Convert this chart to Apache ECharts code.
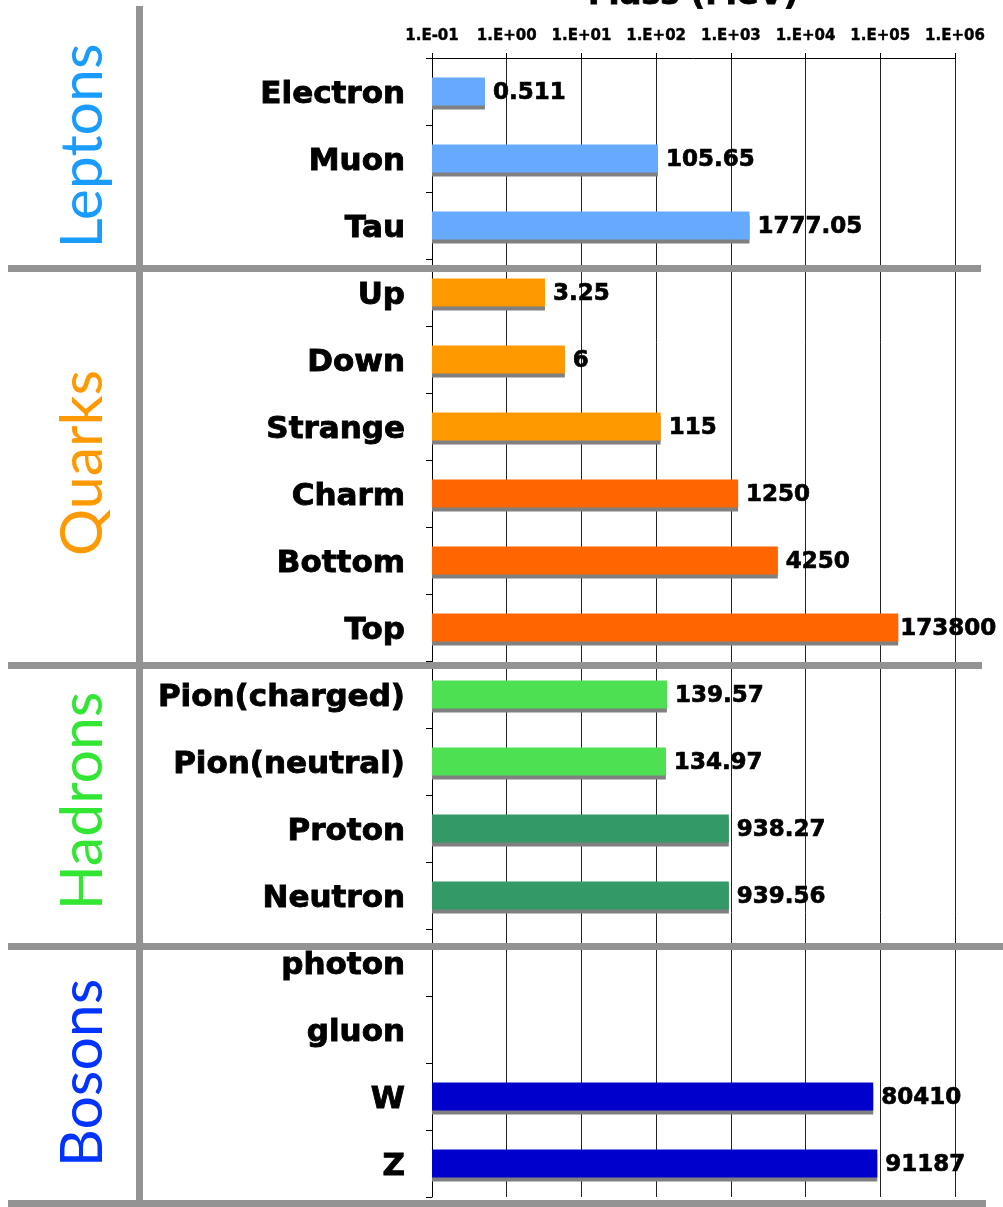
<!DOCTYPE html>
<html>
<head>
<meta charset="utf-8">
<script src="https://cdn.jsdelivr.net/npm/echarts@6/dist/echarts.min.js"></script>
<style>
html,body{margin:0;padding:0;background:#fff;}
#c{width:1003px;height:1207px;}
</style>
</head>
<body>
<div id="c"></div>
<script>
const categories = ['Electron','Muon','Tau','Up','Down','Strange','Charm','Bottom','Top',
  'Pion(charged)','Pion(neutral)','Proton','Neutron','photon','gluon','W','Z'];
const masses = [0.511, 105.65, 1777.05, 3.25, 6, 115, 1250, 4250, 173800,
  139.57, 134.97, 938.27, 939.56, null, null, 80410, 91187];
const barColors = ['#66aaff','#66aaff','#66aaff','#ff9900','#ff9900','#ff9900','#ff6600','#ff6600','#ff6600',
  '#4ce052','#4ce052','#339966','#339966','#0000cc','#0000cc','#0000cc','#0000cc'];
const tickLabels = ['1.E-01','1.E+00','1.E+01','1.E+02','1.E+03','1.E+04','1.E+05','1.E+06'];
const groups = ['Leptons','Quarks','Hadrons','Bosons'];
const groupColors = ['#1a9cff','#ff9900','#33e633','#0033ff'];
const groupCenters = [146, 463, 801, 1073];

const chart = echarts.init(document.getElementById('c'), null, {renderer:'canvas'});
const sepColor = '#939393';
const graphics = [
  {type:'rect', shape:{x:136, y:6, width:7, height:1207}, style:{fill:sepColor}, z:10},
  {type:'rect', shape:{x:8, y:265, width:973, height:7}, style:{fill:sepColor}, z:10},
  {type:'rect', shape:{x:8, y:662, width:974, height:7}, style:{fill:sepColor}, z:10},
  {type:'rect', shape:{x:8, y:943, width:995, height:7}, style:{fill:sepColor}, z:10},
  {type:'rect', shape:{x:8, y:1200, width:978, height:7}, style:{fill:sepColor}, z:10},
  {type:'text', x:693, y:-4, style:{text:'Mass (MeV)', fontSize:32, fontWeight:'bold', fontFamily:'DejaVu Sans', fill:'#000', textAlign:'center', textVerticalAlign:'middle', stroke:'#000', lineWidth:0.8}, z:10}
];
groups.forEach((g,i)=>{
  graphics.push({type:'text', x:83, y:groupCenters[i], rotation:Math.PI/2,
    style:{text:g, fontSize:59, fontFamily:'Lato', fill:groupColors[i], textAlign:'center', textVerticalAlign:'middle'}, z:10});
});

chart.setOption({
  animation:false,
  backgroundColor:'#fff',
  grid:{left:432, right:48, top:58, bottom:10, containLabel:false},
  xAxis:{
    type:'log', logBase:10, min:0.1, max:1e6, startValue:0.1, position:'top', splitNumber:7,
    axisLine:{show:true, lineStyle:{color:'#000', width:1}},
    axisTick:{show:true, length:5, lineStyle:{color:'#000'}},
    minorTick:{show:false},
    splitLine:{show:true, lineStyle:{color:'#222', width:1}},
    axisLabel:{margin:14, fontSize:15, fontWeight:'bold', fontFamily:'DejaVu Sans', color:'#000',
      textBorderColor:'#000', textBorderWidth:0.4,
      formatter:(v)=>tickLabels[Math.round(Math.log10(v))+1]}
  },
  yAxis:{
    type:'category', inverse:true, data:categories,
    axisLine:{show:true, lineStyle:{color:'#000', width:1}},
    axisTick:{show:true, length:6, lineStyle:{color:'#000'}},
    splitLine:{show:false},
    axisLabel:{margin:27, fontSize:31, fontWeight:'bold', fontFamily:'DejaVu Sans', color:'#000',
      textBorderColor:'#000', textBorderWidth:0.9, verticalAlign:'top', lineHeight:6}
  },
  graphic:graphics,
  series:[{
    type:'bar', barWidth:28,
    data:masses.map((v,i)=>({value:v, itemStyle:{color:barColors[i]}, label:{distance: i===8 ? 2 : 8}})),
    itemStyle:{shadowColor:'#808080', shadowOffsetX:0, shadowOffsetY:4, shadowBlur:0},
    label:{show:true, position:'right', distance:8, fontSize:23, fontWeight:'bold', fontFamily:'DejaVu Sans', color:'#000',
      textBorderColor:'#000', textBorderWidth:0.7, verticalAlign:'top', lineHeight:4,
      formatter:(p)=> p.value==null ? '' : String(p.value)}
  }]
});
</script>
</body>
</html>
